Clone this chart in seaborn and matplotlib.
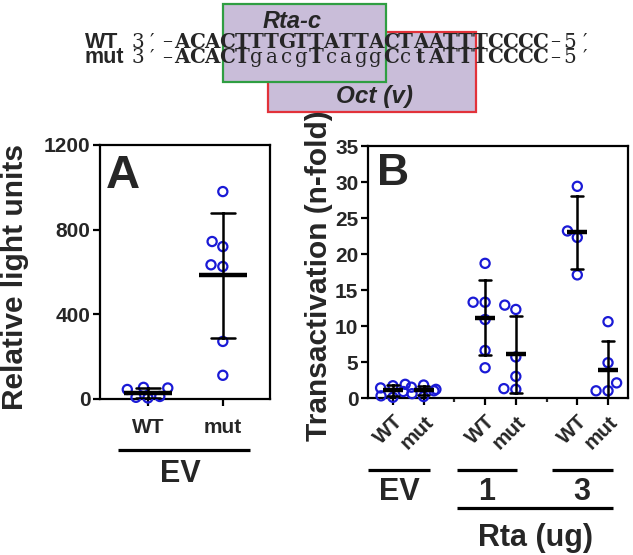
import numpy as np
import pandas as pd
import matplotlib
matplotlib.use("Agg")
import matplotlib.pyplot as plt
import seaborn as sns
from matplotlib.patches import Rectangle
from matplotlib.lines import Line2D
from matplotlib.transforms import ScaledTranslation

# ---------------- data ----------------
a_groups = ["WT", "mut"]
a_wt = [8, 52, 55, 45, 12, 5]
a_mut = [980, 720, 744, 634, 626, 272, 112]
a_yticks = [0, 400, 800, 1200]

b_groups = ["EV WT", "EV mut", "gap1", "1 WT", "1 mut", "gap2", "3 WT", "3 mut"]
b_ev_wt = [1.9, 1.7, 1.4, 0.9, 0.3, 0.1]
b_ev_mut = [1.8, 1.5, 1.2, 1.0, 0.6, 0.2]
b_r1_wt = [18.7, 13.3, 13.3, 10.9, 6.6, 4.2]
b_r1_mut = [12.9, 12.3, 5.7, 3.0, 1.3, 1.2]
b_r3_wt = [29.4, 23.2, 22.3, 17.1]
b_r3_mut = [10.6, 4.9, 2.1, 1.0, 1.0]
b_yticks = [0, 5, 10, 15, 20, 25, 30, 35]
b_ticklabels = ["WT", "mut", "WT", "mut", "WT", "mut"]

wt_seq = [("3\u2032\u2013", False), ("ACACTTTGTTATTACTAATTTCCCC", True), ("\u20135\u2032", False)]
mut_seq = [("3\u2032\u2013", False), ("ACACT", True), ("gacg", False), ("T", True),
           ("cagg", False), ("C", True), ("c", False), ("t", True),
           ("ATTTCCCC", True), ("\u20135\u2032", False)]

# ---------------- style ----------------
sns.set_style("ticks")
plt.rcParams["font.family"] = ["Liberation Sans", "DejaVu Sans"]
plt.rcParams["font.weight"] = "bold"
plt.rcParams["axes.labelweight"] = "bold"

W, H = 633, 555
fig = plt.figure(figsize=(W / 100, H / 100), dpi=100)


def fx(px):
    return px / W


def fy(py):
    return 1 - py / H


BLUE = "#1a1ad6"
PURPLE = "#c9bdd9"

axA = fig.add_axes([fx(100), fy(399), 170 / W, 254 / H])
axB = fig.add_axes([fx(368), fy(398), 260 / W, 252 / H])


def style_points(ax):
    for c in list(ax.collections):
        if len(c.get_offsets()) == 0:
            c.remove()
            continue
        c.set_facecolor("none")
        c.set_edgecolor(BLUE)
        c.set_linewidth(1.6)
        c.set_clip_on(False)
        c.set_zorder(3)


# ---------------- panel A ----------------
dfA = pd.DataFrame({"group": ["WT"] * len(a_wt) + ["mut"] * len(a_mut),
                    "value": a_wt + a_mut})
sns.swarmplot(data=dfA, x="group", y="value", order=a_groups, ax=axA,
              size=6.6, color=BLUE)
style_points(axA)
sns.pointplot(data=dfA, x="group", y="value", order=a_groups, ax=axA,
              estimator="mean", errorbar="sd", capsize=0.32, color="black",
              linestyle="none", marker="_", markersize=34, markeredgewidth=3.2,
              err_kws={"linewidth": 1.8, "zorder": 4}, zorder=4)
axA.set_xlim(-0.64, 1.63)
axA.set_ylim(0, 1200)
axA.set_yticks(a_yticks)
axA.set_xlabel("")
axA.set_ylabel("")
axA.set_xticks([0, 1])
axA.set_xticklabels(a_groups, fontsize=19, fontweight="bold")
axA.tick_params(axis="x", pad=9)
for lab in axA.get_xticklabels():
    lab.set_transform(lab.get_transform() +
                      ScaledTranslation(-0.07, 0, fig.dpi_scale_trans))

# ---------------- panel B ----------------
b_vals = [b_ev_wt, b_ev_mut, [], b_r1_wt, b_r1_mut, [], b_r3_wt, b_r3_mut]
rows = []
for g, vals in zip(b_groups, b_vals):
    for v in vals:
        rows.append((g, v))
dfB = pd.DataFrame(rows, columns=["group", "value"])
sns.swarmplot(data=dfB, x="group", y="value", order=b_groups, ax=axB,
              size=6.6, color=BLUE)
style_points(axB)
sns.pointplot(data=dfB, x="group", y="value", order=b_groups, ax=axB,
              estimator="mean", errorbar="sd", capsize=0.38, color="black",
              linestyle="none", marker="_", markersize=15, markeredgewidth=3.2,
              err_kws={"linewidth": 1.8, "zorder": 4}, zorder=4)
axB.set_xlim(-0.81, 7.65)
axB.set_ylim(0, 35)
axB.set_yticks(b_yticks)
axB.set_xlabel("")
axB.set_ylabel("")
major_pos = [i for i, g in enumerate(b_groups) if not g.startswith("gap")]
minor_pos = [i for i, g in enumerate(b_groups) if g.startswith("gap")]
axB.set_xticks(major_pos)
axB.set_xticks(minor_pos, minor=True)
axB.set_xticklabels(b_ticklabels, fontsize=16.5, fontweight="bold",
                    rotation=45, ha="right", va="top", rotation_mode="anchor")
axB.tick_params(axis="x", which="minor", length=3, width=1.6, direction="out")
axB.tick_params(axis="x", pad=5)

for ax in (axA, axB):
    for s in ax.spines.values():
        s.set_visible(True)
        s.set_linewidth(1.6)
        s.set_color("black")
    ax.tick_params(axis="both", which="major", direction="out", length=5,
                   width=1.6, color="black", labelsize=15)
    for lab in ax.get_yticklabels():
        lab.set_fontweight("bold")
        lab.set_fontsize(15)
    ax.tick_params(axis="y", pad=2)

# axis titles and panel letters
fig.text(fx(15), fy(277), "Relative light units", rotation=90, ha="center",
         va="center", fontsize=21.5, fontweight="bold")
fig.text(fx(319), fy(276), "Transactivation (n-fold)", rotation=90,
         ha="center", va="center", fontsize=21.5, fontweight="bold")
fig.text(fx(106), fy(188), "A", fontsize=34, fontweight="bold", va="baseline")
fig.text(fx(377), fy(185), "B", fontsize=32, fontweight="bold", va="baseline")


def hline(x1, x2, y, lw=2.3):
    fig.add_artist(Line2D([fx(x1), fx(x2)], [fy(y), fy(y)],
                          transform=fig.transFigure, lw=lw, color="black",
                          solid_capstyle="butt"))


# group brackets panel A
hline(118, 250, 450)
fig.text(fx(180), fy(482), "EV", ha="center", va="baseline", fontsize=22,
         fontweight="bold")
# group brackets panel B
hline(368, 430, 470)
hline(457, 517, 470)
hline(552, 613, 470)
fig.text(fx(399), fy(500), "EV", ha="center", va="baseline", fontsize=22,
         fontweight="bold")
fig.text(fx(487), fy(500), "1", ha="center", va="baseline", fontsize=22,
         fontweight="bold")
fig.text(fx(582), fy(500), "3", ha="center", va="baseline", fontsize=22,
         fontweight="bold")
hline(457, 613, 508)
fig.text(fx(535), fy(546), "Rta (ug)", ha="center", va="baseline",
         fontsize=22, fontweight="bold")

# ---------------- header with sequences ----------------
red = Rectangle((fx(268), fy(112)), fx(476) - fx(268), fy(32) - fy(112),
                transform=fig.transFigure, facecolor=PURPLE,
                edgecolor="#e2323a", lw=1.6, zorder=1)
green = Rectangle((fx(223), fy(82)), fx(386) - fx(223), fy(4) - fy(82),
                  transform=fig.transFigure, facecolor=PURPLE,
                  edgecolor="#2f9e42", lw=1.6, zorder=2)
fig.add_artist(red)
fig.add_artist(green)

fig.text(fx(292), fy(28), "Rta-c", ha="center", va="baseline", fontsize=17,
         fontweight="bold", fontstyle="italic", zorder=5)
fig.text(fx(375), fy(103), "Oct (v)", ha="center", va="baseline", fontsize=17.5,
         fontweight="bold", fontstyle="italic", zorder=5)
fig.text(fx(85), fy(48), "WT", ha="left", va="baseline", fontsize=15.5,
         fontweight="bold", zorder=5)
fig.text(fx(85), fy(63.5), "mut", ha="left", va="baseline", fontsize=15.5,
         fontweight="bold", zorder=5)

cw = 14.9
x0 = 130


def draw_seq(parts, ybase):
    i = 0
    for txt, bold in parts:
        for ch in txt:
            fig.text(fx(x0 + (i + 0.5) * cw), fy(ybase), ch, ha="center",
                     va="baseline", family=["DejaVu Serif"], fontsize=14.3,
                     fontweight="bold" if bold else "normal", zorder=5)
            i += 1


draw_seq(wt_seq, 47.5)
draw_seq(mut_seq, 63.5)

fig.savefig("out.png", dpi=100)
